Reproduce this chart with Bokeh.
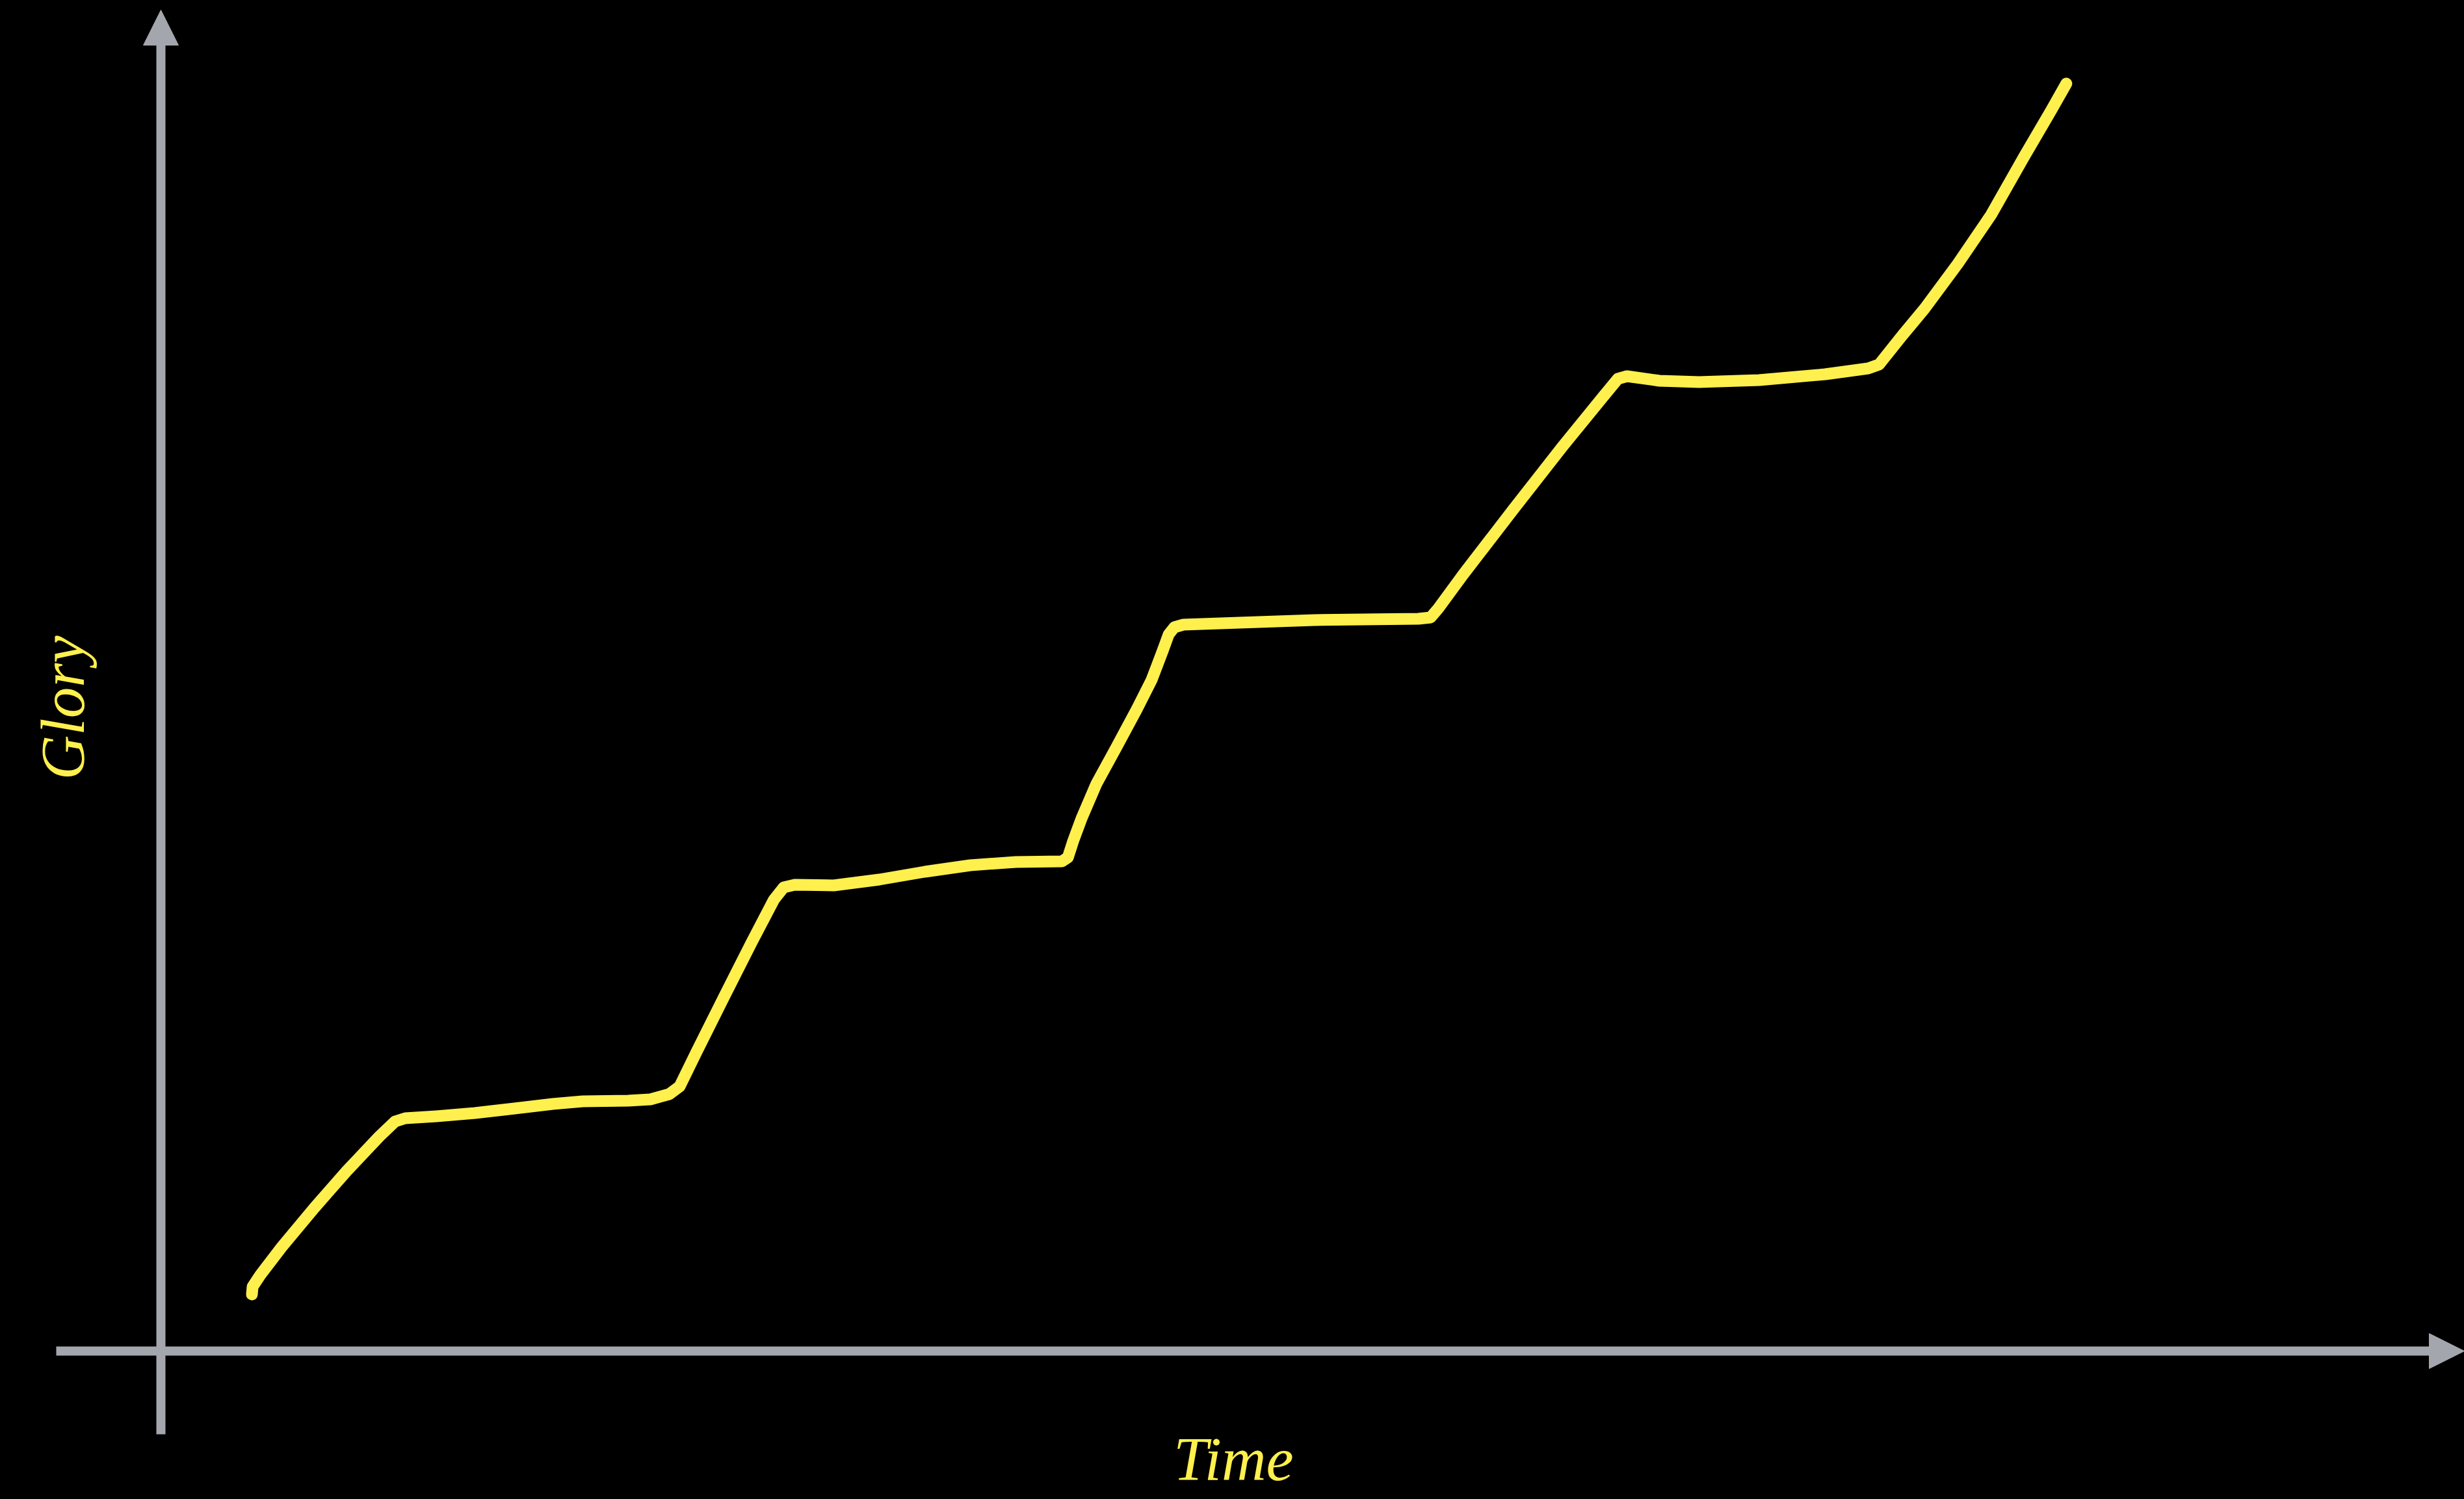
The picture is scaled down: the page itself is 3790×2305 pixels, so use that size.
from bokeh.plotting import figure
from bokeh.models import Range1d, Arrow, NormalHead, GlobalInlineStyleSheet
from bokeh.core.properties import value
from bokeh.embed import file_html
from bokeh.resources import INLINE

# ---- data (Time vs Glory) ----
time = [4.0, 4.03, 4.37, 5.31, 6.74, 8.17, 9.6, 10.29, 10.74, 12.11, 13.8, 15.54,
        17.23, 18.54, 20.54, 21.51, 22.34, 22.8, 23.54, 24.74, 25.94, 26.94, 27.37,
        27.86, 29.57, 31.57, 33.57, 35.57, 37.57, 39.6, 39.86, 40.09, 40.46, 41.11,
        42.0, 42.89, 43.54, 44.03, 44.29, 44.54, 44.94, 47.4, 50.69, 55.26, 55.8,
        56.14, 57.23, 59.43, 61.6, 63.37, 64.03, 64.43, 65.86, 67.6, 70.23, 73.14,
        75.03, 75.51, 76.49, 77.51, 78.97, 80.43, 81.89, 83.06, 83.74]
glory = [4.35, 4.95, 5.85, 8.0, 11.0, 13.85, 16.5, 17.65, 17.9, 18.05, 18.3, 18.65,
         19.0, 19.2, 19.25, 19.35, 19.75, 20.35, 23.0, 27.2, 31.35, 34.7, 35.65,
         35.85, 35.8, 36.25, 36.85, 37.35, 37.6, 37.65, 37.95, 39.2, 40.95, 43.6,
         46.45, 49.35, 51.6, 53.85, 55.1, 55.65, 55.85, 56.0, 56.2, 56.3, 56.4,
         57.1, 59.7, 64.7, 69.55, 73.35, 74.75, 74.95, 74.6, 74.5, 74.65, 75.1,
         75.55, 75.85, 78.0, 80.15, 83.6, 87.35, 91.85, 95.35, 97.45]
x_label = "Time"
y_label = "Glory"

# ---- style ----
BG = "#000000"
AXIS = "#A3A6AD"
YELLOW = "#FFF04D"
W, H = 3790, 2305

p = figure(width=W, height=H, output_backend="svg", toolbar_location=None,
           x_range=Range1d(-7.057, 101.23), y_range=Range1d(-11.4, 103.85),
           min_border=0, background_fill_color=BG, border_fill_color=BG,
           outline_line_color=None)
p.axis.visible = False
p.grid.visible = False
p.stylesheets = [GlobalInlineStyleSheet(css="html, body { background: #000000; overflow: hidden; }")]

# axes drawn as arrows
p.add_layout(Arrow(x_start=-4.6, y_start=0, x_end=101.23, y_end=0,
                   line_color=AXIS, line_width=14,
                   end=NormalHead(size=54, fill_color=AXIS, line_color=AXIS, line_width=1)))
p.add_layout(Arrow(x_start=0, y_start=-6.4, x_end=0, y_end=103.1,
                   line_color=AXIS, line_width=14,
                   end=NormalHead(size=54, fill_color=AXIS, line_color=AXIS, line_width=1)))

# the curve
p.line(time, glory, line_color=YELLOW, line_width=18,
       line_cap="round", line_join="round")

# labels
p.text(x=[47.14], y=[-8.3], text=[x_label], text_color=YELLOW,
       text_font=value("Liberation Serif"), text_font_style="italic",
       text_font_size="95px", text_align="center", text_baseline="middle")
p.text(x=[-4.29], y=[49.45], text=[y_label], text_color=YELLOW,
       text_font=value("Liberation Serif"), text_font_style="italic",
       text_font_size="95px", text_align="center", text_baseline="middle",
       angle=1.5708)

open("out.html", "w").write(file_html(p, INLINE))
